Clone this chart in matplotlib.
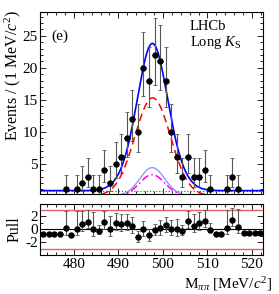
import numpy as np
import matplotlib
matplotlib.use("Agg")
import matplotlib.pyplot as plt
from matplotlib.ticker import MultipleLocator

plt.rcParams['font.family'] = ['Liberation Serif', 'DejaVu Serif']
plt.rcParams['mathtext.fontset'] = 'custom'
plt.rcParams['mathtext.rm'] = 'Liberation Serif'
plt.rcParams['mathtext.it'] = 'Liberation Serif:italic'

# binning of the mass histogram
x_lo, x_hi = 472.5, 522.5
n_bins = 40

counts = [0, 0, 0, 0, 1, 0, 1, 2, 3, 1, 1, 4, 2, 5, 6, 9, 12, 10, 20, 18,
          22, 21, 18, 10, 6, 3, 6, 3, 3, 4, 1, 0, 0, 1, 3, 1, 0, 0, 0, 0]
pulls = [-0.72, -0.72, -0.72, -0.72, 0.15, -0.82, 0.1, 0.82, 1.18, 0.0,
         -0.26, 1.13, 0.0, 0.97, 0.82, 0.92, 0.51, -1.18, 0.05, -0.92,
         -0.1, 0.15, 0.67, 0.1, 0.05, -0.26, 1.28, 0.56, 0.92, 1.33,
         -0.05, -0.77, -0.72, 0.26, 1.49, 0.41, -0.51, -0.51, -0.51, -0.51]

# fit components (height, mean, width)
comp_red = (15.3, 497.7, 4.0)
comp_lblue = (4.4, 497.6, 2.8)
comp_mag = (3.3, 497.6, 2.8)
comp_bkg = 0.8


def gaus(x, p):
    return p[0] * np.exp(-0.5 * ((x - p[1]) / p[2]) ** 2)


def poisson_err(n):
    n = np.asarray(n, float)
    lo = n * (1 - 1 / (9 * n) - 1 / (3 * np.sqrt(n))) ** 3
    hi = (n + 1) * (1 - 1 / (9 * (n + 1)) + 1 / (3 * np.sqrt(n + 1))) ** 3
    return n - lo, hi - n


edges = np.linspace(x_lo, x_hi, n_bins + 1)
centers = 0.5 * (edges[1:] + edges[:-1])
half_w = 0.5 * (edges[1] - edges[0])
counts = np.array(counts)
pulls = np.array(pulls)
nz = counts > 0
e_lo, e_hi = poisson_err(counts[nz])

xs = np.linspace(x_lo, x_hi, 600)
red = gaus(xs, comp_red)
lblue = gaus(xs, comp_lblue)
mag = gaus(xs, comp_mag)
bkg = np.full_like(xs, comp_bkg)
total = red + lblue + mag + bkg

fig = plt.figure(figsize=(2.79, 2.94), dpi=100)
ax = fig.add_axes([0.145, 0.340, 0.798, 0.620])
axp = fig.add_axes([0.145, 0.133, 0.798, 0.173])

ax.plot(xs, bkg, color='#00a000', lw=0.9, ls=(0, (1, 1.5)))
ax.plot(xs, lblue, color='#8c8cff', lw=0.9)
ax.plot(xs, mag, color='#ff00ff', lw=1.1, ls=(0, (5, 2, 1, 2)))
ax.plot(xs, red, color='#ff0000', lw=1.1, ls=(0, (5, 3)))
ax.plot(xs, total, color='#0000ff', lw=1.2)
ax.errorbar(centers[nz], counts[nz], yerr=[e_lo, e_hi], fmt='none',
            ecolor='#555555', elinewidth=0.8, capsize=1.2, capthick=0.6)
ax.errorbar(centers[nz], counts[nz], xerr=half_w, fmt='o', color='black',
            ms=3.6, elinewidth=0.8, capsize=0)

ax.set_xlim(x_lo, x_hi)
ax.set_ylim(0.27, 28.75)
ax.set_ylabel('Events / (1 MeV/$c^2$)', fontsize=11.5, loc='top')
ax.yaxis.set_label_coords(-0.078, 1.01)
ax.text(0.047, 0.868, '(e)', transform=ax.transAxes, fontsize=11, va='center')
ax.text(0.67, 0.918, 'LHCb', transform=ax.transAxes, fontsize=10.5, va='center')
ax.text(0.67, 0.829, 'Long $K_{\\rm S}$', transform=ax.transAxes, fontsize=10.5,
        va='center')

# pull panel
pe_lo = np.zeros(n_bins)
pe_hi = np.zeros(n_bins)
lo_all = np.zeros(n_bins)
hi_all = np.zeros(n_bins)
lo_all[nz] = e_lo
hi_all[nz] = e_hi
for i in range(n_bins):
    if counts[i] == 0:
        continue
    if pulls[i] >= 0:
        pe_lo[i] = 1.0
        pe_hi[i] = hi_all[i] / lo_all[i]
    else:
        pe_hi[i] = 1.0
        pe_lo[i] = lo_all[i] / hi_all[i]

axp.axhline(3, color='#e86060', lw=1.0)
axp.axhline(-3, color='#e86060', lw=1.0)
axp.axhline(0, color='black', lw=0.8)
axp.errorbar(centers[nz], pulls[nz], yerr=[pe_lo[nz], pe_hi[nz]], fmt='none',
             ecolor='#555555', elinewidth=0.8, capsize=1.2, capthick=0.6)
axp.errorbar(centers, pulls, xerr=half_w, fmt='o', color='black', ms=3.6,
             elinewidth=0.8, capsize=0)
axp.set_xlim(x_lo, x_hi)
axp.set_ylim(-3.92, 3.92)
axp.set_yticks([-2, 0, 2])
axp.set_yticklabels(['-2', '0', '2'])
axp.set_ylabel('Pull', fontsize=11.5)
axp.yaxis.set_label_coords(-0.078, 0.5)
axp.set_xlabel('M$_{\\pi\\pi}$ [MeV/$c^2$]', fontsize=11, ha='right')
axp.xaxis.set_label_coords(1.04, -0.40)

for a in (ax, axp):
    a.xaxis.set_major_locator(MultipleLocator(10))
    a.xaxis.set_minor_locator(MultipleLocator(2))
    a.tick_params(which='both', direction='in', top=True, right=True,
                  labelsize=11, width=0.6)
    a.tick_params(which='major', length=4, pad=2)
    a.tick_params(which='minor', length=2)
    for s in a.spines.values():
        s.set_linewidth(0.8)
ax.yaxis.set_major_locator(MultipleLocator(5))
ax.yaxis.set_minor_locator(MultipleLocator(1))
axp.yaxis.set_minor_locator(MultipleLocator(1))
ax.tick_params(labelbottom=False)

fig.savefig('out.png', dpi=100)
